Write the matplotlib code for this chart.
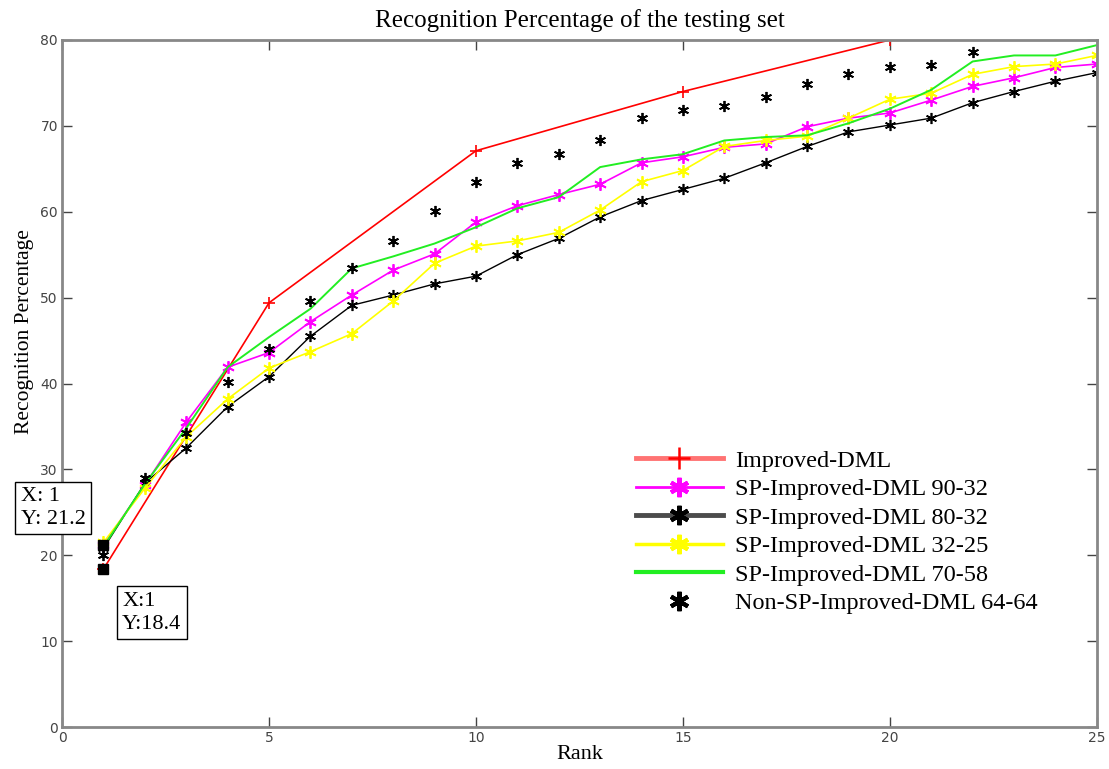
import matplotlib.pyplot as plt
from matplotlib.lines import Line2D

plt.rcParams['font.family'] = ['Liberation Serif', 'DejaVu Serif']

rank = list(range(1, 26))

# Improved-DML (only evaluated at a few ranks)
rank_red = [1, 5, 10, 15, 20]
improved = [18.4, 49.4, 67.1, 74.0, 80.0]

sp_90_32 = [21.2, 28.2, 35.5, 41.9, 43.6, 47.2, 50.3, 53.2, 55.1, 58.8, 60.7, 62.0, 63.2,
            65.7, 66.4, 67.5, 67.9, 69.9, 70.9, 71.5, 73.0, 74.6, 75.6, 76.8, 77.2]
sp_80_32 = [20.8, 28.4, 32.5, 37.3, 40.8, 45.5, 49.1, 50.3, 51.6, 52.5, 55.0, 56.9, 59.4,
            61.3, 62.6, 63.9, 65.7, 67.6, 69.3, 70.1, 70.9, 72.7, 74.0, 75.2, 76.2]
sp_32_25 = [21.5, 27.8, 33.8, 38.2, 41.8, 43.7, 45.8, 49.6, 54.0, 56.0, 56.6, 57.6, 60.2,
            63.5, 64.8, 67.6, 68.3, 68.8, 70.9, 73.1, 73.8, 76.0, 76.9, 77.2, 78.2]
sp_70_58 = [21.0, 28.3, 34.8, 41.9, 45.4, 48.7, 53.4, 54.8, 56.3, 58.2, 60.4, 61.7, 65.2,
            66.1, 66.7, 68.3, 68.7, 68.9, 70.3, 72.0, 74.2, 77.5, 78.2, 78.2, 79.4]
rank_non = list(range(1, 23))
non_sp = [20.0, 29.0, 34.2, 40.2, 44.0, 49.6, 53.5, 56.6, 60.1, 63.5, 65.7, 66.7, 68.3,
          70.9, 71.8, 72.3, 73.4, 74.9, 76.0, 76.8, 77.1, 78.6]

labels = ['Improved-DML', 'SP-Improved-DML 90-32', 'SP-Improved-DML 80-32',
          'SP-Improved-DML 32-25', 'SP-Improved-DML 70-58', 'Non-SP-Improved-DML 64-64']

ast = (6, 2, 0)

fig = plt.figure(figsize=(11.09, 7.69), dpi=100)
ax = fig.add_axes([0.056, 0.0546, 0.933, 0.8934])

ax.plot(rank_red, improved, color='red', lw=1.2, marker='+', ms=9, mew=1.2)
ax.plot(rank, sp_90_32, color='magenta', lw=1.2, marker=ast, ms=9, mew=1.3)
ax.plot(rank, sp_80_32, color='black', lw=1.0, marker=ast, ms=8, mew=1.2)
ax.plot(rank, sp_32_25, color='yellow', lw=1.2, marker=ast, ms=9, mew=1.3)
ax.plot(rank, sp_70_58, color='#22ee22', lw=1.4)
ax.plot(rank_non, non_sp, color='black', lw=0, marker=ast, ms=8, mew=1.3)

# data tips
ax.plot([1, 1], [21.2, 18.4], ls='none', marker='s', color='black', ms=7)
ax.annotate('X: 1\nY: 21.2', xy=(1, 21.2), xytext=(-1.0, 25.5), fontsize=16,
            va='center', ha='left', linespacing=1.25, annotation_clip=False,
            bbox=dict(boxstyle='square,pad=0.25', fc='white', ec='black', lw=1))
ax.annotate('X:1\nY:18.4', xy=(1, 18.4), xytext=(1.45, 13.3), fontsize=16,
            va='center', ha='left', linespacing=1.25,
            bbox=dict(boxstyle='square,pad=0.25', fc='white', ec='black', lw=1))

ax.set_xlim(0, 25)
ax.set_ylim(0, 80)
ax.set_xticks([0, 5, 10, 15, 20, 25])
ax.set_yticks(range(0, 81, 10))
ax.tick_params(direction='in', length=7, width=1, top=True, right=True, pad=3,
               labelsize=10, colors='#444444')
for lbl in ax.get_xticklabels() + ax.get_yticklabels():
    lbl.set_family(['Liberation Sans Narrow', 'DejaVu Sans'])
for sp in ax.spines.values():
    sp.set_color('#888888')
    sp.set_linewidth(2)

ax.set_title('Recognition Percentage of the testing set', fontsize=18, pad=9)
ax.set_xlabel('Rank', fontsize=16, labelpad=0)
ax.set_ylabel('Recognition Percentage', fontsize=15.5)
ax.yaxis.set_label_coords(-0.027, 0.575)

handles = [
    Line2D([], [], color='red', lw=3.5, alpha=0.55),
    Line2D([], [], color='magenta', lw=2),
    Line2D([], [], color='black', lw=3.5, alpha=0.7),
    Line2D([], [], color='yellow', lw=2.5),
    Line2D([], [], color='#22ee22', lw=3),
    Line2D([], [], lw=0),
]
marks = [
    Line2D([], [], color='red', lw=0, marker='+', ms=16, mew=1.8),
    Line2D([], [], color='magenta', lw=0, marker=ast, ms=14, mew=3),
    Line2D([], [], color='black', lw=0, marker=ast, ms=14, mew=3),
    Line2D([], [], color='yellow', lw=0, marker=ast, ms=14, mew=3),
    Line2D([], [], lw=0),
    Line2D([], [], color='black', lw=0, marker=ast, ms=14, mew=3),
]
leg = ax.legend(list(zip(handles, marks)), labels, loc='upper left',
                bbox_to_anchor=(0.545, 0.418), frameon=False, fontsize=17.5,
                handlelength=3.6, handletextpad=0.5, labelspacing=0.27,
                borderaxespad=0)

fig.savefig('out.png', dpi=100)
